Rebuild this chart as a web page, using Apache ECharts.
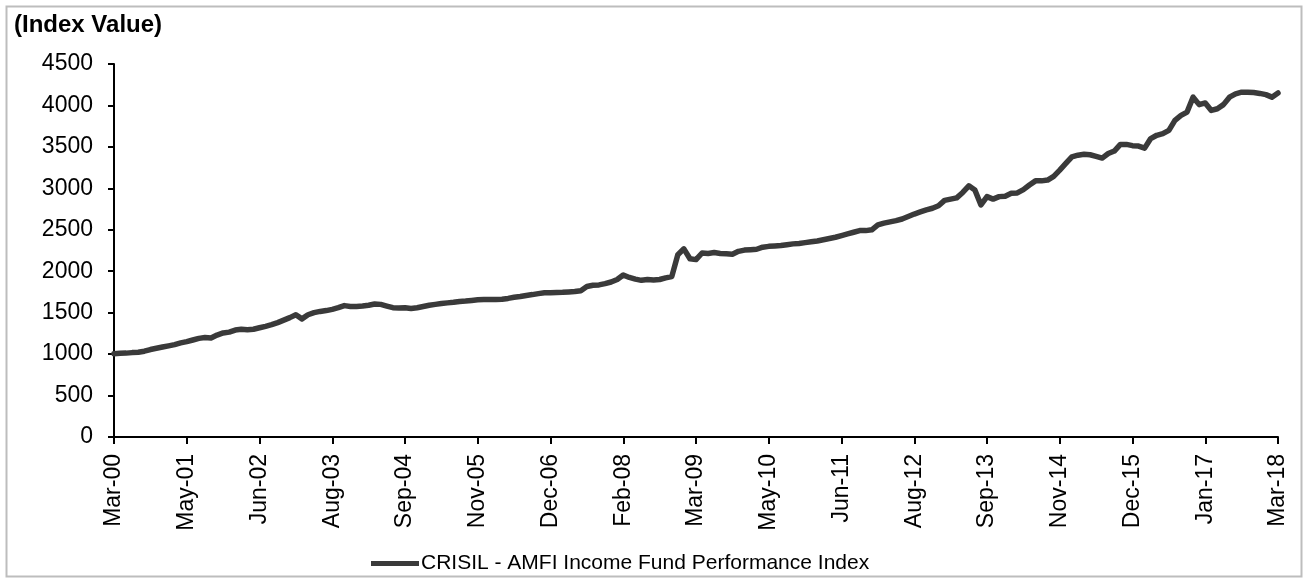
<!DOCTYPE html>
<html>
<head>
<meta charset="utf-8">
<script src="https://cdn.jsdelivr.net/npm/echarts@6/dist/echarts.min.js"></script>
<style>
html,body{margin:0;padding:0;background:#fff;}
#chart{width:1303px;height:578px;}
</style>
</head>
<body>
<div id="chart"></div>
<script>
// Tick labels along the x axis (one every 12 data points)
const tickLabels = ['Mar-00','May-01','Jun-02','Aug-03','Sep-04','Nov-05','Dec-06','Feb-08','Mar-09','May-10','Jun-11','Aug-12','Sep-13','Nov-14','Dec-15','Jan-17','Mar-18'];
const pointsPerLabel = 12;
const seriesName = 'CRISIL - AMFI Income Fund Performance Index';
const yTicks = [0, 500, 1000, 1500, 2000, 2500, 3000, 3500, 4000, 4500];
// Index values, read evenly spaced from Mar-00 to Mar-18
const indexValues = [
  1005,1010,1012,1018,1022,1035,1055,1070,1085,1100,1115,1135,
  1150,1170,1190,1200,1195,1230,1255,1265,1290,1300,1295,1300,
  1318,1335,1355,1380,1410,1440,1475,1425,1475,1500,1515,1525,
  1540,1560,1585,1575,1575,1580,1590,1605,1600,1580,1560,1555,
  1560,1550,1560,1575,1590,1600,1610,1618,1625,1635,1640,1648,
  1655,1658,1658,1660,1662,1672,1685,1695,1708,1718,1730,1740,
  1740,1742,1745,1750,1755,1765,1815,1830,1835,1850,1870,1900,
  1955,1925,1905,1890,1900,1895,1900,1920,1935,2200,2270,2150,
  2140,2220,2215,2225,2215,2210,2205,2240,2255,2260,2265,2290,
  2300,2305,2310,2320,2330,2335,2345,2355,2365,2380,2395,2410,
  2430,2450,2470,2490,2490,2500,2560,2580,2595,2610,2630,2660,
  2690,2715,2740,2760,2790,2855,2870,2885,2950,3030,2980,2800,
  2900,2870,2900,2905,2940,2945,2985,3040,3090,3090,3100,3145,
  3220,3300,3380,3400,3410,3405,3385,3365,3420,3450,3530,3530,
  3515,3510,3485,3600,3640,3660,3700,3820,3880,3920,4100,4010,
  4030,3940,3960,4010,4100,4140,4160,4160,4155,4145,4130,4100,
  4150
];
const categories = indexValues.map((v, i) => i);

const chart = echarts.init(document.getElementById('chart'), null, {renderer: 'canvas'});
const font = 'Liberation Sans, Arial, sans-serif';
const showTick = (i) => i % pointsPerLabel === 0;

chart.setOption({
  animation: false,
  backgroundColor: '#ffffff',
  title: {
    text: '(Index Value)',
    left: 14, top: 13, padding: 0,
    textStyle: {fontFamily: font, fontSize: 24, fontWeight: 'bold', color: '#000'}
  },
  graphic: [{
    type: 'rect', left: 4, top: 4, silent: true,
    shape: {width: 1295, height: 570},
    style: {fill: 'none', stroke: '#bdbdbd', lineWidth: 2}
  }],
  grid: {left: 114, right: 25, top: 64, bottom: 141, containLabel: false},
  legend: {
    left: 366, top: 548,
    itemWidth: 48, itemHeight: 5, itemGap: 10,
    icon: 'rect',
    textStyle: {fontFamily: font, fontSize: 21, color: '#000', padding: [0,0,0,-3]},
    data: [{name: seriesName, icon: 'rect'}]
  },
  xAxis: {
    type: 'category',
    data: categories,
    boundaryGap: false,
    axisLine: {lineStyle: {color: '#000', width: 2}},
    axisTick: {show: true, interval: (i) => showTick(i), length: 7, lineStyle: {color: '#000', width: 2}},
    axisLabel: {
      interval: (i) => showTick(i),
      rotate: 90,
      margin: 17,
      fontFamily: font, fontSize: 23, color: '#000',
      formatter: (v, i) => tickLabels[Math.round(i / pointsPerLabel)]
    },
    splitLine: {show: false}
  },
  yAxis: {
    type: 'value',
    min: yTicks[0], max: yTicks[yTicks.length - 1], interval: yTicks[1] - yTicks[0],
    axisLine: {show: true, lineStyle: {color: '#000', width: 2}},
    axisTick: {show: true, length: 6, lineStyle: {color: '#000', width: 2}},
    axisLabel: {margin: 21, fontFamily: font, fontSize: 23, color: '#000', formatter: (v) => String(v)},
    splitLine: {show: false}
  },
  series: [{
    name: seriesName,
    type: 'line',
    data: indexValues,
    showSymbol: false,
    symbol: 'none',
    lineStyle: {color: '#3a3a3a', width: 5.5, join: 'round', cap: 'round'},
    itemStyle: {color: '#3a3a3a'}
  }]
});
</script>
</body>
</html>
